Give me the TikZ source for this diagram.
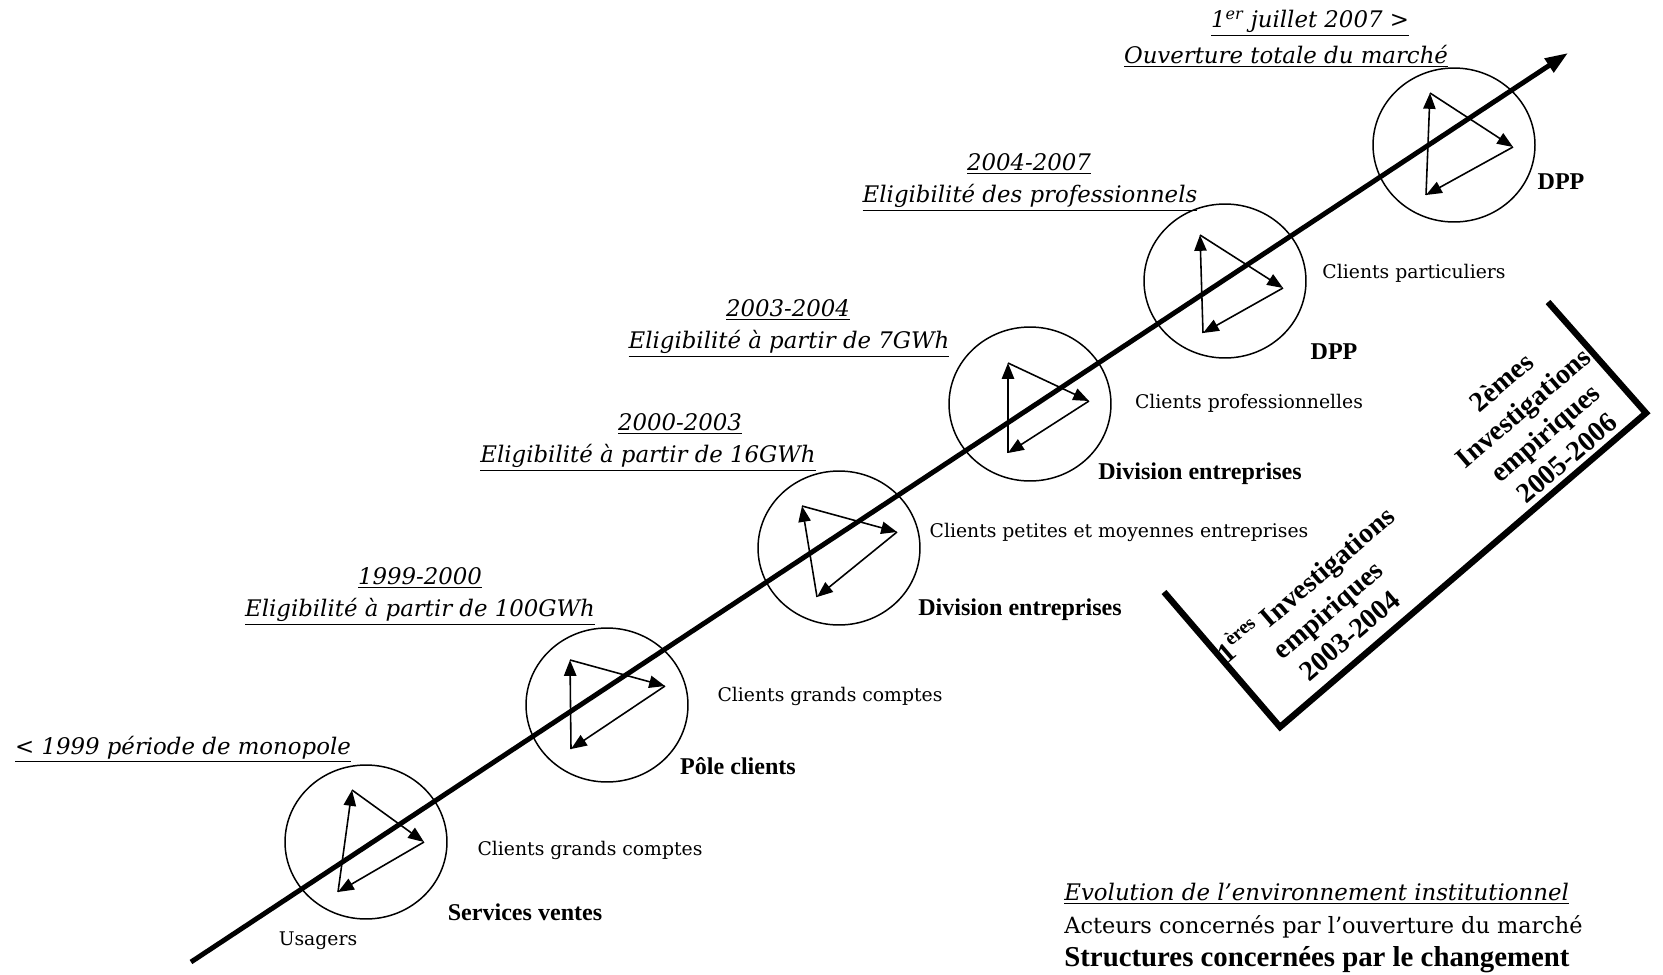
\documentclass[tikz,border=0pt]{standalone}
\usepackage{fontspec}
\setmainfont{DejaVu Serif}
\newfontfamily\timesfont{Liberation Serif}
\usetikzlibrary{arrows.meta, shapes.geometric}

\tikzset{
  cyc/.style={ellipse, draw, line width=0.85pt, minimum width=3.24cm, minimum height=3.08cm, inner sep=0pt},
  flow/.style={-{Triangle[length=9pt, width=7pt]}, line width=0.9pt},
  axis/.style={-{Triangle[length=13pt, width=9pt]}, line width=2.8pt},
  bracket/.style={line width=3.6pt},
  period/.style={font=\fontsize{13}{15}\selectfont\itshape, inner sep=0pt},
  actor/.style={font=\fontsize{10.7}{13}\selectfont, inner sep=0pt},
  struct/.style={font=\timesfont\bfseries\fontsize{13.7}{16}\selectfont, inner sep=0pt},
  inquiry/.style={font=\timesfont\bfseries\fontsize{16}{19}\selectfont, align=center, rotate=40.6, inner sep=0pt},
}

\begin{document}
\begin{tikzpicture}[x=0.02cm, y=-0.02cm]

\useasboundingbox (0,0) rectangle (1663,974);

% circles with the three-arrow cycle
\foreach \i/\cx/\cy/\tx/\ty/\rx/\ry/\bx/\by in {
    1/366/842/352/790/424/842/338/892,
    2/607/705/570/660/665/686/571/749,
    3/839/548/802/506/897/532/817/597,
    4/1030/404/1008/363/1089/401/1008/453,
    5/1225/281/1200/235/1283/288/1203/333,
    6/1454/145/1430/93/1513/147/1426/195}{
  \node (c\i)[cyc] at (\cx, \cy) {};
  \coordinate (top\i) at (\tx, \ty);
  \coordinate (rgt\i) at (\rx, \ry);
  \coordinate (bot\i) at (\bx, \by);
  \draw[flow] (bot\i) -- (top\i);
  \draw[flow] (top\i) -- (rgt\i);
  \draw[flow] (rgt\i) -- (bot\i);
}

% time axis
\coordinate (ax0) at (191, 962);
\coordinate (ax1) at (1568, 53);
\draw[axis] (ax0) -- (ax1);

% periods
\node (per0)[period] at (183, 749) {\underline{< 1999 période de monopole}};
\node (per1a)[period] at (420, 578) {\underline{1999-2000}};
\node (per1b)[period] at (420, 612) {\underline{Eligibilité à partir de 100GWh}};
\node (per2a)[period] at (680, 424) {\underline{2000-2003}};
\node (per2b)[period] at (648, 458) {\underline{Eligibilité à partir de 16GWh}};
\node (per3a)[period] at (788, 310) {\underline{2003-2004}};
\node (per3b)[period] at (789, 344) {\underline{Eligibilité à partir de 7GWh}};
\node (per4a)[period] at (1029, 164) {\underline{2004-2007}};
\node (per4b)[period] at (1030, 198) {\underline{Eligibilité des professionnels}};
\node (per5a)[period] at (1310, 23) {\underline{1\textsuperscript{er} juillet 2007 >}};
\node (per5b)[period] at (1286, 56) {\underline{Ouverture totale du marché}};

% actors
\node (act0)[actor] at (318, 941) {Usagers};
\node (act1)[actor] at (590, 850) {Clients grands comptes};
\node (act2)[actor] at (830, 696) {Clients grands comptes};
\node (act3)[actor] at (1119, 532) {Clients petites et moyennes entreprises};
\node (act4)[actor] at (1249, 403) {Clients professionnelles};
\node (act5)[actor] at (1414, 273) {Clients particuliers};

% structures
\node (str1)[struct] at (525, 912) {Services ventes};
\node (str2)[struct] at (738, 766) {Pôle clients};
\node (str3)[struct] at (1020, 610) {Division entreprises};
\node (str4)[struct] at (1200, 474) {Division entreprises};
\node (str5)[struct] at (1334, 352) {DPP};
\node (str6)[struct] at (1561, 182) {DPP};

% empirical investigations
\coordinate (brA) at (1164, 592);
\coordinate (brB) at (1280, 727);
\coordinate (brD) at (1646, 413);
\coordinate (brC) at (1548, 302);
\draw[bracket] (brA) -- (brB) -- (brD) -- (brC);
\node (inq1)[inquiry] at (1326, 608) {1\textsuperscript{ères} Investigations\\empiriques\\2003-2004};
\node (inq2)[inquiry] at (1534, 420) {2èmes\\Investigations\\empiriques\\2005-2006};

% legend
\node (leg1)[period, anchor=west] at (1064, 894) {\underline{Evolution de l’environnement institutionnel}};
\node (leg2)[actor, font=\fontsize{12.75}{15}\selectfont, anchor=west] at (1064, 927) {Acteurs concernés par l’ouverture du marché};
\node (leg3)[struct, font=\timesfont\bfseries\fontsize{16.4}{19}\selectfont, anchor=west] at (1064, 960) {Structures concernées par le changement};

\end{tikzpicture}
\end{document}
